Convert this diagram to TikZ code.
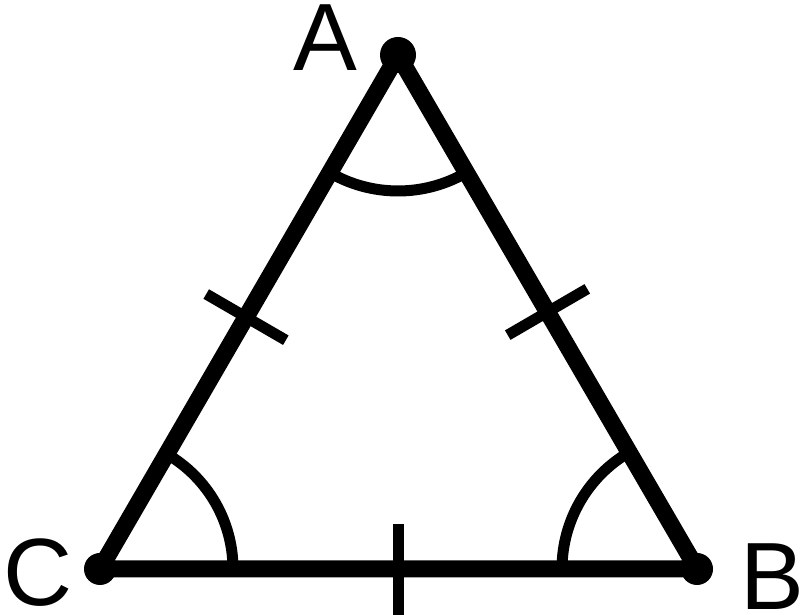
\documentclass[tikz,border=0pt]{standalone}
\usepackage{fontspec}
\setmainfont{Liberation Sans}
\usetikzlibrary{calc}

\tikzset{
  side/.style={line width=17*0.025cm, line join=round},
  thinline/.style={line width=11*0.025cm},
  vertexdot/.style={fill=black},
  vlabel/.style={font=\fontsize{68}{82}\selectfont, inner sep=0pt}
}

\begin{document}
\begin{tikzpicture}[x=0.025cm, y=0.025cm]
    \useasboundingbox (0,0) rectangle (800,615);
    % vertices
    \coordinate (A) at (398,560);
    \coordinate (B) at (697,46);
    \coordinate (C) at (100,46);
    % sides
    \draw[side] (A) -- (B) -- (C) -- cycle;
    % angle arcs
    \draw[thinline] ($(A)+(239.8:136)$) arc[start angle=239.8, end angle=300.2, radius=136];
    \draw[thinline] ($(C)+(0:133)$) arc[start angle=0, end angle=59.8, radius=133];
    \draw[thinline] ($(B)+(120.2:135)$) arc[start angle=120.2, end angle=180, radius=135];
    % equal side ticks
    \draw[thinline] ($(A)!0.51!(C)!1.15cm!90:(C)$) -- ($(A)!0.51!(C)!1.15cm!-90:(C)$);
    \draw[thinline] ($(A)!0.5!(B)!1.15cm!90:(B)$) -- ($(A)!0.5!(B)!1.15cm!-90:(B)$);
    \draw[thinline] ($(C)!0.5!(B)+(0,45)$) -- ($(C)!0.5!(B)+(0,-46)$);
    % vertex dots
    \fill[vertexdot] (A) circle[radius=18];
    \fill[vertexdot] (B) circle[radius=16];
    \fill[vertexdot] (C) circle[radius=16];
    % labels
    \node[vlabel] (labA) at (325,577) {A};
    \node[vlabel] (labB) at (772,38) {B};
    \node[vlabel] (labC) at (38,42) {C};
\end{tikzpicture}
\end{document}
